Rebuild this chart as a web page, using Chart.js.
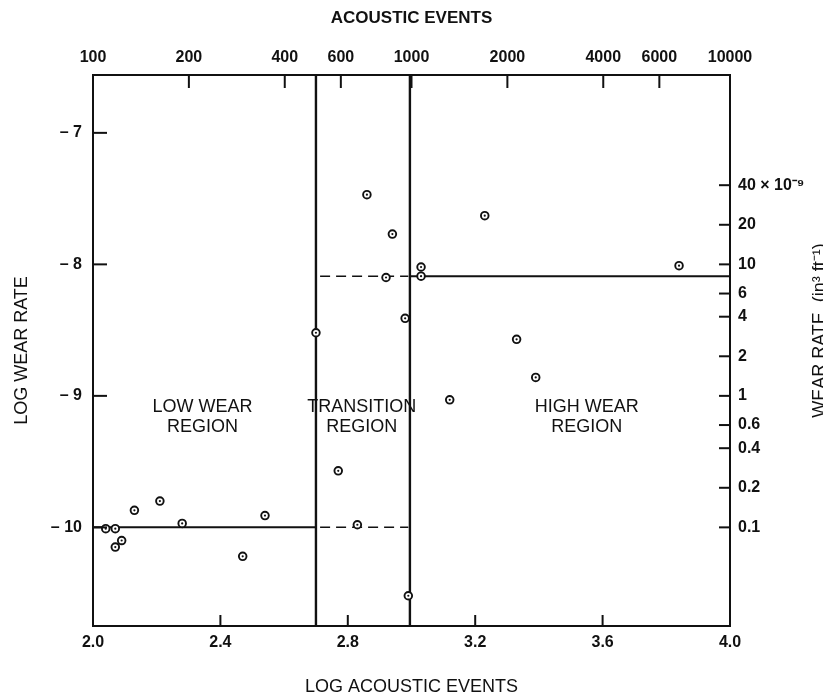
<!DOCTYPE html>
<html>
<head>
<meta charset="utf-8">
<script src="https://cdn.jsdelivr.net/npm/chart.js@4.4.1/dist/chart.umd.min.js"></script>
<style>
  html, body { margin: 0; padding: 0; background: #fff; }
  #wrap { width: 823px; height: 696px; }
</style>
</head>
<body>
<div id="wrap"><canvas id="wearChart" width="823" height="696"></canvas></div>
<script>
// data
const logEvents = [2.04, 2.07, 2.09, 2.07, 2.13, 2.21, 2.28, 2.47, 2.54, 2.70, 2.77, 2.83, 2.86, 2.92, 2.94, 2.98, 2.99, 3.03, 3.03, 3.12, 3.23, 3.33, 3.39, 3.84];
const logWearRate = [-10.01, -10.01, -10.10, -10.15, -9.87, -9.80, -9.97, -10.22, -9.91, -8.52, -9.57, -9.98, -7.47, -8.10, -7.77, -8.41, -10.52, -8.02, -8.09, -9.03, -7.63, -8.57, -8.86, -8.01];

// region boundaries
const regionBounds = [2.70, 2.995];
const lowWearLevel = -10.0;
const highWearLevel = -8.09;
const regionNames = [['LOW WEAR', 'REGION'], ['TRANSITION', 'REGION'], ['HIGH WEAR', 'REGION']];
const regionLabelX = [2.344, 2.844, 3.55];
const regionLabelY = [-9.087, -9.24];

// axes
const xMin = 2.0, xMax = 4.0;
const yMin = -10.75, yMax = -6.56;
const bottomTicks = [2.0, 2.4, 2.8, 3.2, 3.6, 4.0];
const topTicks = [100, 200, 400, 600, 1000, 2000, 4000, 6000, 10000];
const leftTicks = [-7, -8, -9, -10];
const rightTicks = [40, 20, 10, 6, 4, 2, 1, 0.6, 0.4, 0.2, 0.1];
const rightTickLabels = ['40 \u00d7 10\u207b\u2079', '20', '10', '6', '4', '2', '1', '0.6', '0.4', '0.2', '0.1'];

const ink = '#111';
const tickFont = { family: 'Liberation Sans, Arial, sans-serif', size: 16, weight: 'bold' };
const titleFont = { family: 'Liberation Sans, Arial, sans-serif', size: 18, lineHeight: 1 };

function setTicks(values) {
  return function(scale) {
    scale.ticks = values.map(v => ({ value: v }));
  };
}

// ticks pointing into the plot
const inwardTicks = {
  id: 'inwardTicks',
  afterDatasetsDraw(chart) {
    const ctx = chart.ctx;
    const area = chart.chartArea;
    const lens = { x: 11, x2: 13, y: 14, y2: 11 };
    ctx.save();
    ctx.strokeStyle = ink;
    ctx.lineWidth = 2;
    Object.keys(lens).forEach(id => {
      const s = chart.scales[id];
      s.ticks.forEach(t => {
        const p = s.getPixelForValue(t.value);
        ctx.beginPath();
        if (id === 'x') { ctx.moveTo(p, area.bottom); ctx.lineTo(p, area.bottom - lens[id]); }
        if (id === 'x2') { ctx.moveTo(p, area.top); ctx.lineTo(p, area.top + lens[id]); }
        if (id === 'y') { ctx.moveTo(area.left, p); ctx.lineTo(area.left + lens[id], p); }
        if (id === 'y2') { ctx.moveTo(area.right, p); ctx.lineTo(area.right - lens[id], p); }
        ctx.stroke();
      });
    });
    ctx.restore();
  }
};

// region names and the right axis title
const textLabels = {
  id: 'textLabels',
  afterDraw(chart) {
    const ctx = chart.ctx;
    const sx = chart.scales.x, sy = chart.scales.y;
    ctx.save();
    ctx.fillStyle = ink;
    ctx.font = '18px "Liberation Sans", Arial, sans-serif';
    ctx.textAlign = 'center';
    ctx.textBaseline = 'middle';
    regionNames.forEach((lines, i) => {
      lines.forEach((txt, j) => {
        ctx.fillText(txt, sx.getPixelForValue(regionLabelX[i]), sy.getPixelForValue(regionLabelY[j]));
      });
    });
    ctx.translate(825, (chart.chartArea.top + chart.chartArea.bottom) / 2 - 20);
    ctx.rotate(-Math.PI / 2);
    ctx.textBaseline = 'alphabetic';
    ctx.fillText('WEAR RATE  (in\u00b3 ft\u207b\u00b9)', 0, 0);
    ctx.restore();
  }
};

function segment(x0, y0, x1, y1, dash, width) {
  return {
    data: [{ x: x0, y: y0 }, { x: x1, y: y1 }],
    showLine: true,
    borderColor: ink,
    borderWidth: width,
    borderDash: dash,
    pointRadius: 0,
    order: 2,
    xAxisID: 'x',
    yAxisID: 'y'
  };
}

const points = logEvents.map((x, i) => ({ x: x, y: logWearRate[i] }));

const chart = new Chart(document.getElementById('wearChart'), {
  type: 'scatter',
  data: {
    datasets: [
      segment(regionBounds[0], yMin, regionBounds[0], yMax, [], 2.4),
      segment(regionBounds[1], yMin, regionBounds[1], yMax, [], 2.4),
      segment(xMin, lowWearLevel, regionBounds[0], lowWearLevel, [], 2),
      segment(regionBounds[0] + 0.013, lowWearLevel, regionBounds[1] - 0.005, lowWearLevel, [10, 6], 1.5),
      segment(regionBounds[0] + 0.013, highWearLevel, regionBounds[1] - 0.005, highWearLevel, [10, 6], 1.5),
      segment(regionBounds[1], highWearLevel, xMax, highWearLevel, [], 2),
      {
        // open rings
        data: points,
        pointStyle: 'circle',
        pointRadius: 3.8,
        borderWidth: 1.9,
        borderColor: ink,
        backgroundColor: '#fff',
        order: 1,
        xAxisID: 'x',
        yAxisID: 'y'
      },
      {
        // centre dots
        data: points,
        pointStyle: 'circle',
        pointRadius: 1.1,
        borderWidth: 0,
        backgroundColor: ink,
        order: 0,
        xAxisID: 'x',
        yAxisID: 'y'
      }
    ]
  },
  options: {
    responsive: false,
    animation: false,
    devicePixelRatio: 1,
    layout: { padding: 0 },
    plugins: { legend: { display: false }, tooltip: { enabled: false } },
    scales: {
      x: {
        type: 'linear', position: 'bottom', min: xMin, max: xMax,
        afterBuildTicks: setTicks(bottomTicks),
        afterFit: s => { s.height = 70; },
        grid: { display: false, drawTicks: false },
        border: { display: true, color: ink, width: 2 },
        ticks: { color: ink, font: tickFont, padding: 7, autoSkip: false, maxRotation: 0,
          callback: v => v.toFixed(1) },
        title: { display: true, text: 'LOG ACOUSTIC EVENTS', color: ink, font: titleFont, padding: { top: 0, bottom: 0 } }
      },
      x2: {
        type: 'linear', position: 'top', min: xMin, max: xMax,
        afterBuildTicks: setTicks(topTicks.map(v => Math.log10(v))),
        afterFit: s => { s.height = 75; },
        grid: { display: false, drawTicks: false },
        border: { display: true, color: ink, width: 2 },
        ticks: { color: ink, font: tickFont, padding: 8, autoSkip: false, maxRotation: 0,
          callback: (v, i) => String(topTicks[i]) },
        title: { display: true, text: 'ACOUSTIC EVENTS', color: ink,
          font: { family: 'Liberation Sans, Arial, sans-serif', size: 17, weight: 'bold', lineHeight: 1 },
          padding: { top: 10, bottom: 0 } }
      },
      y: {
        type: 'linear', position: 'left', min: yMin, max: yMax,
        afterBuildTicks: setTicks(leftTicks),
        afterFit: s => { s.width = 93; },
        grid: { display: false, drawTicks: false },
        border: { display: true, color: ink, width: 2 },
        ticks: { color: ink, font: tickFont, padding: 11, autoSkip: false,
          callback: v => '\u2013 ' + Math.abs(v) },
        title: { display: true, text: 'LOG WEAR RATE', color: ink, font: titleFont, padding: { top: 13, bottom: 0 } }
      },
      y2: {
        type: 'linear', position: 'right', min: yMin, max: yMax,
        afterBuildTicks: setTicks(rightTicks.map(v => Math.log10(v) - 9)),
        afterFit: s => { s.width = 93; },
        grid: { display: false, drawTicks: false },
        border: { display: true, color: ink, width: 2 },
        ticks: { color: ink, font: tickFont, padding: 8, autoSkip: false,
          callback: (v, i) => rightTickLabels[i] }
      }
    }
  },
  plugins: [inwardTicks, textLabels]
});
</script>
</body>
</html>
